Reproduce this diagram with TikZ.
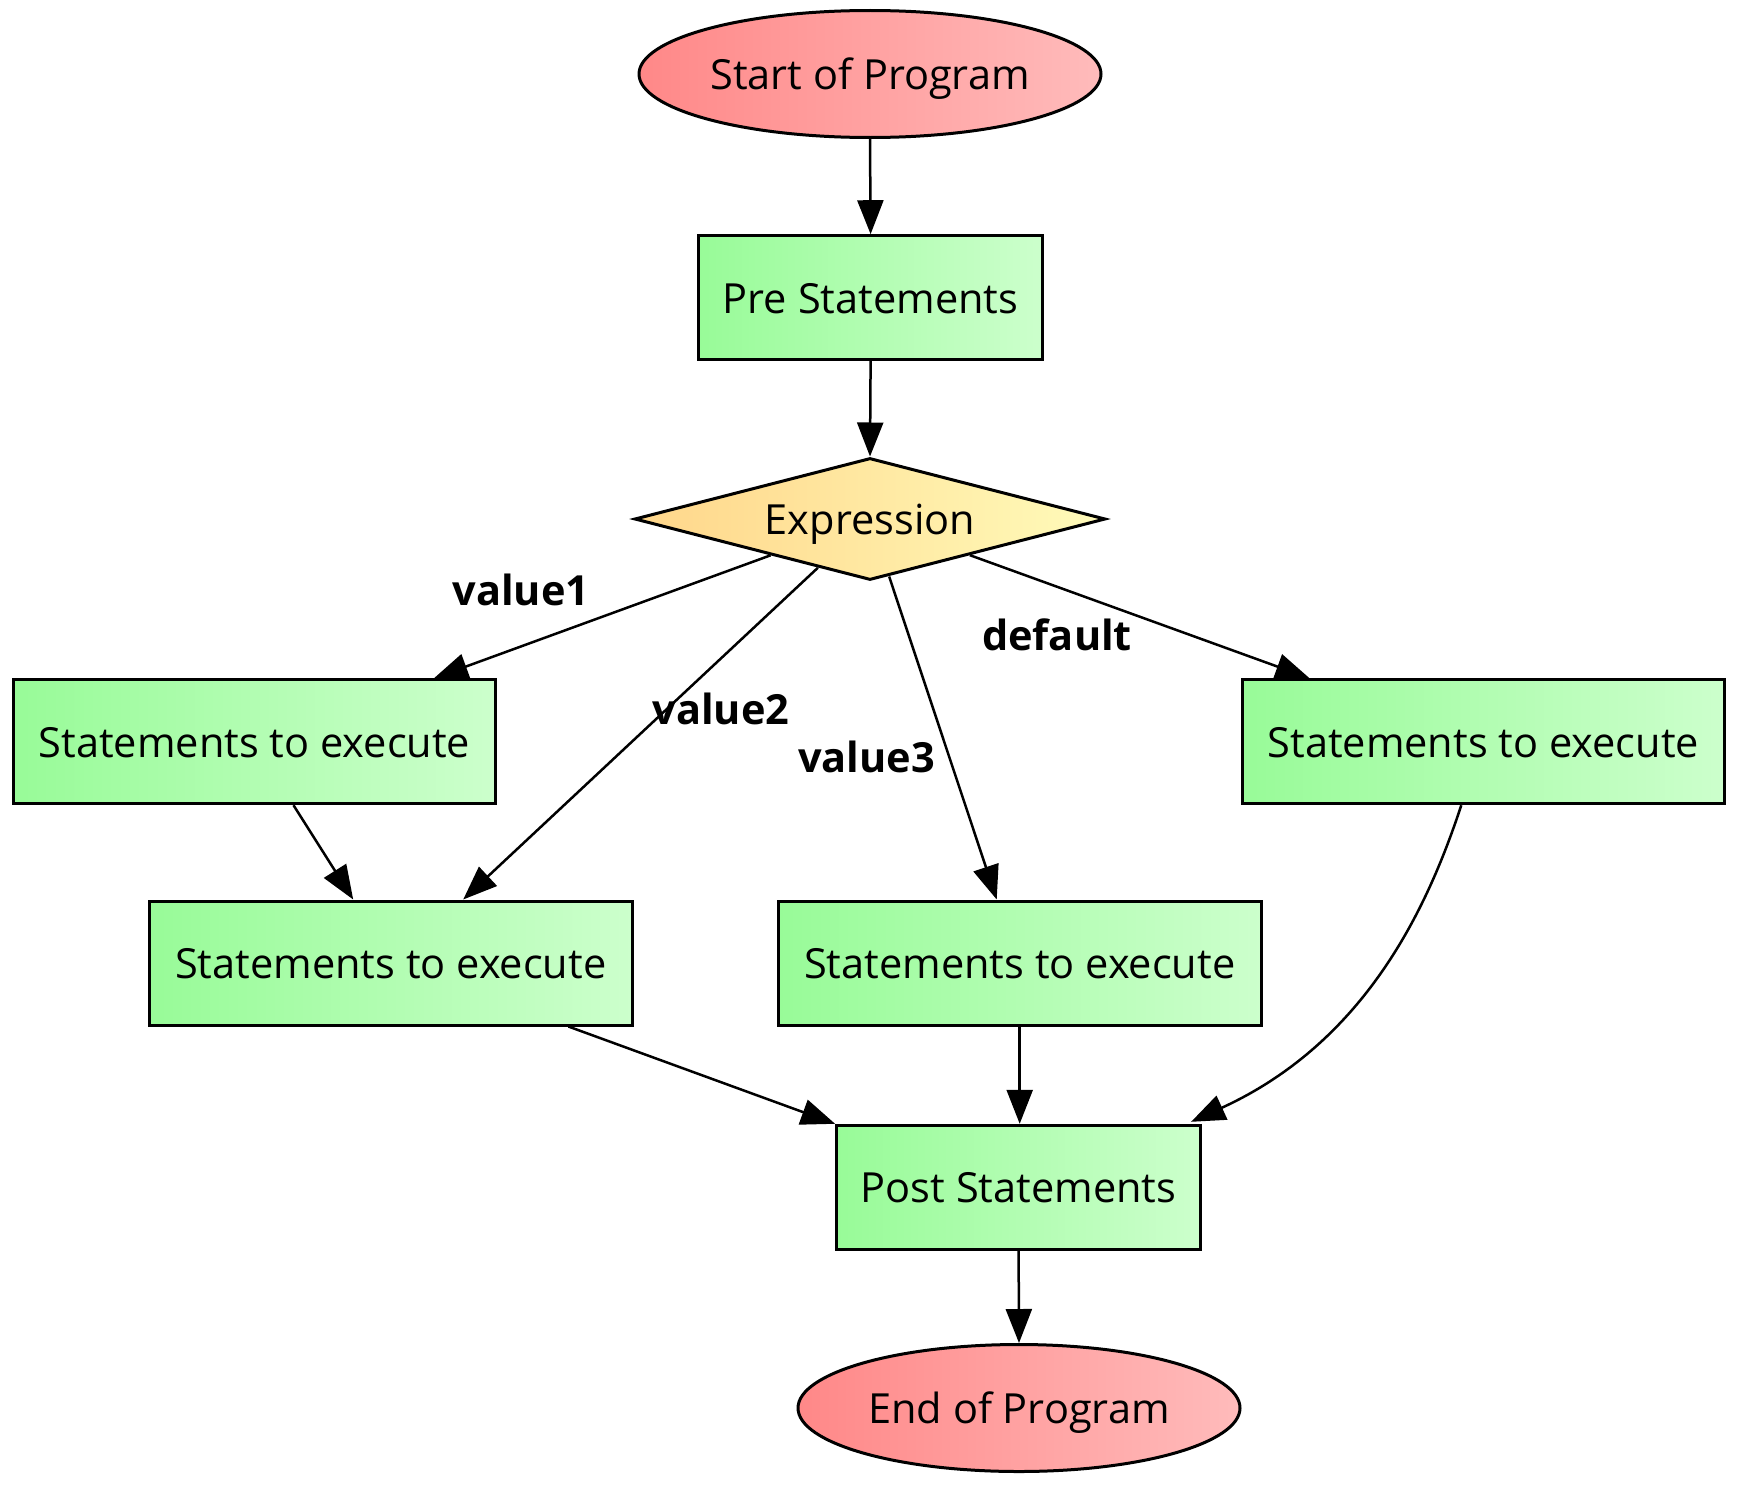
\documentclass[tikz,border=0pt]{standalone}
\usepackage{fontspec}
\setmainfont{Open Sans}
\usetikzlibrary{shapes.geometric,arrows.meta,calc}
\definecolor{r1}{RGB}{255,136,136}
\definecolor{r2}{RGB}{255,187,187}
\definecolor{g1}{RGB}{152,251,152}
\definecolor{g2}{RGB}{204,255,204}
\definecolor{y1}{RGB}{255,214,138}
\definecolor{y2}{RGB}{255,251,186}
\begin{document}
\begin{tikzpicture}[x=1pt,y=-1pt,
  every node/.style={font=\fontsize{41.5}{48}\selectfont, inner sep=0pt},
  shp/.style={draw,line width=3pt,text height=36pt,text depth=5pt},
  box/.style={shp,rectangle,left color=g1,right color=g2,minimum height=124pt},
  term/.style={shp,ellipse,left color=r1,right color=r2,minimum height=127pt},
  dec/.style={shp,diamond,left color=y1,right color=y2,minimum width=471pt,minimum height=122pt,aspect=3.86},
  conn/.style={line width=2.5pt,-{Triangle[length=34pt,width=26pt]}},
  lbl/.style={font=\fontsize{41.5}{48}\selectfont\bfseries}]
\useasboundingbox (0,0) rectangle (1758,1504);
\node[term,minimum width=462pt] (start) at (870,74) {Start of Program};
\node[box,minimum width=344pt] (pre) at (870.6,297.7) {Pre Statements};
\node[dec] (expr) at (870,519) {Expression};
\node[box,minimum width=482pt] (A) at (254.5,741.7) {Statements to execute};
\node[box,minimum width=482pt] (D) at (1483.3,741.7) {Statements to execute};
\node[box,minimum width=483pt] (B) at (390.7,963) {Statements to execute};
\node[box,minimum width=483pt] (C) at (1019.7,963) {Statements to execute};
\node[box,minimum width=364pt] (post) at (1018.6,1187.3) {Post Statements};
\node[term,minimum width=442pt] (end) at (1019,1408) {End of Program};

\node[lbl] (l1) at (521,590) {value1};
\node[lbl] (l2) at (721,708.6) {value2};
\node[lbl] (l3) at (866.7,756.8) {value3};
\node[lbl] (l4) at (1057,634.6) {default};

\draw[conn] (start.south) -- (pre.north);
\draw[conn] (pre.south) -- (expr.north);
\draw[conn] (expr) -- ([xshift=179.5pt]A.north);
\draw[conn] (expr) -- ([xshift=72.5pt]B.north);
\draw[conn] (expr) -- ([xshift=-23pt]C.north);
\draw[conn] (expr) -- ([xshift=-173.8pt]D.north);
\draw[conn] ([xshift=39pt]A.south) -- ([xshift=-37.5pt]B.north);
\draw[conn] ([xshift=177.7pt]B.south) -- (post.north west);
\draw[conn] (C.south) -- (C.south |- post.north);
\draw[conn] ([xshift=-22pt]D.south) .. controls (1430,900) and (1370,1040) .. ([xshift=-11pt,yshift=2pt]post.north east);
\draw[conn] (post.south) -- (end.north);
\end{tikzpicture}
\end{document}
